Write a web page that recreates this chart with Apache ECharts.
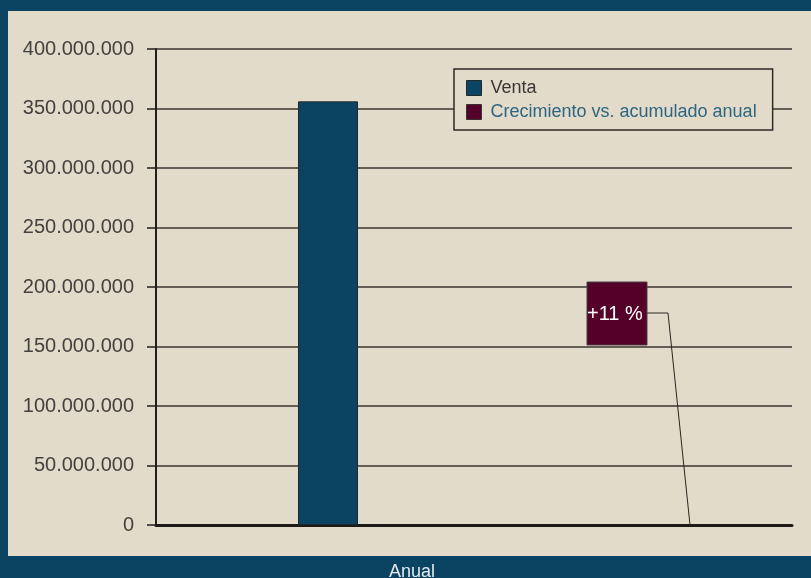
<!DOCTYPE html>
<html>
<head>
<meta charset="utf-8">
<script src="https://cdn.jsdelivr.net/npm/echarts@6/dist/echarts.min.js"></script>
<style>
  html, body { margin: 0; padding: 0; background: #0b4462; }
  #chart { width: 811px; height: 578px; }
</style>
</head>
<body>
<div id="chart"></div>
<script>
const categories = ['Anual'];
const seriesNames = ['Venta', 'Crecimiento vs. acumulado anual'];
const venta = [356000000];
const crecimiento = [11]; // percent
const yTicks = { min: 0, max: 400000000, interval: 50000000 };

function fmtThousands(v) {
  return String(v).replace(/\B(?=(\d{3})+(?!\d))/g, '.');
}

const chart = echarts.init(document.getElementById('chart'));
const font = '"Liberation Sans", Arial, sans-serif';
const maroon = '#540028';

const option = {
  backgroundColor: '#0b4462',
  animation: false,
  textStyle: { fontFamily: font },
  graphic: [{
    type: 'rect', z: -100, silent: true,
    shape: { x: 8, y: 11, width: 803, height: 545 },
    style: { fill: '#e2dbc9' }
  }],
  grid: { left: 156, right: 19, top: 49, bottom: 53, containLabel: false, outerBoundsMode: 'none' },
  legend: {
    orient: 'vertical',
    left: 454, top: 69,
    padding: [10, 16, 9, 12],
    backgroundColor: '#e2dbc9',
    borderColor: '#2e2a27',
    borderWidth: 1.5,
    itemWidth: 15, itemHeight: 15, itemGap: 6,
    icon: 'rect',
    selectedMode: false,
    textStyle: { fontSize: 18, lineHeight: 18, fontFamily: font, padding: [0, 0, 0, 4] },
    data: [
      { name: seriesNames[0], textStyle: { color: '#3a3634' }, itemStyle: { borderColor: '#1f2a30', borderWidth: 1 } },
      { name: seriesNames[1], textStyle: { color: '#2e6580' }, itemStyle: { borderColor: '#3a3030', borderWidth: 1 } }
    ]
  },
  xAxis: {
    type: 'category',
    data: categories,
    axisLine: { show: true, lineStyle: { color: '#1e1a18', width: 3 } },
    axisTick: { show: false },
    axisLabel: {
      color: '#e4eaee', fontSize: 18, margin: 38, fontFamily: font,
      padding: [0, 124, 0, 0]
    }
  },
  yAxis: {
    type: 'value',
    min: yTicks.min, max: yTicks.max, interval: yTicks.interval,
    axisLine: { show: true, lineStyle: { color: '#231f1c', width: 2 } },
    axisTick: { show: true, length: 9, lineStyle: { color: '#231f1c', width: 1.5 } },
    axisLabel: { color: '#45413e', fontSize: 20, margin: 22, fontFamily: font, formatter: fmtThousands },
    splitLine: { show: true, lineStyle: { color: '#3a3430', width: 1.5 } }
  },
  series: [
    {
      name: seriesNames[0],
      type: 'bar',
      data: venta,
      barWidth: 60,
      barGap: '386.7%',
      itemStyle: { color: '#0b4462', borderColor: '#1f2a30', borderWidth: 1 }
    },
    {
      name: seriesNames[1],
      type: 'bar',
      data: crecimiento,
      barWidth: 60,
      itemStyle: { color: maroon, borderWidth: 0 }
    },
    {
      // data label "+11 %" with its leader line, anchored on the zero line
      name: 'etiqueta',
      type: 'custom',
      z: 5,
      data: crecimiento.map((v, i) => [i, v]),
      renderItem: function (params, api) {
        const base = api.coord([api.value(0), 0]);   // category centre on zero line
        const anchorX = base[0] + 216;
        const boxX = base[0] + 113, boxY = base[1] - 243, w = 60, h = 63;
        const midY = boxY + 31;
        return {
          type: 'group',
          children: [
            {
              type: 'polyline',
              shape: { points: [[boxX + w, midY], [boxX + w + 21, midY], [anchorX, base[1]]] },
              style: { stroke: '#2a2622', lineWidth: 1, fill: null }
            },
            {
              type: 'rect',
              shape: { x: boxX, y: boxY, width: w, height: h },
              style: { fill: maroon, stroke: '#4a4040', lineWidth: 1 }
            },
            {
              type: 'text',
              style: {
                x: boxX, y: boxY + h / 2 + 1,
                text: '+' + api.value(1) + ' %',
                fill: '#ffffff', fontSize: 20, fontFamily: font,
                align: 'left', verticalAlign: 'middle'
              }
            }
          ]
        };
      }
    }
  ]
};
chart.setOption(option);
</script>
</body>
</html>
